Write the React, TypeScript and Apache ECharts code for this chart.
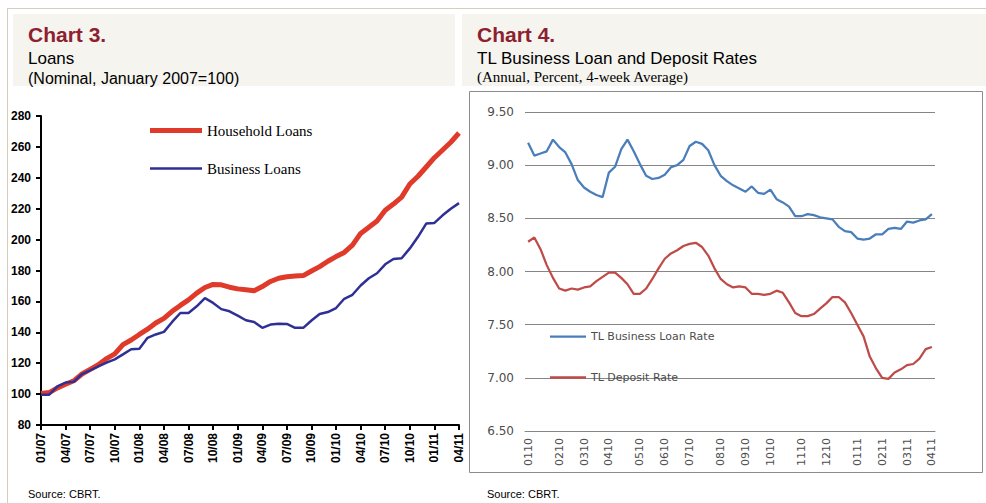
import React, { useEffect, useRef } from "react";
import * as echarts from "echarts";

// Chart 3 – Loans (Nominal, January 2007 = 100), monthly from 01/07 to 04/11
const householdLoans = [
  100.4, 101, 104, 106.4, 108.6, 113, 116, 119, 123, 126, 132, 135,
  138.6, 142, 146, 149, 153.6, 157.4, 161, 165.4, 169, 171, 170.7, 169.2,
  168.1, 167.5, 166.9, 169.6, 172.9, 175, 176, 176.5, 176.7, 179.7, 182.5, 186,
  189, 191.7, 196.4, 204, 208, 212, 219, 223, 227.5, 236, 241, 247,
  253, 258, 263, 269,
];
const businessLoans = [
  99.6, 99.6, 105, 107.5, 108, 113, 115.4, 118, 120.4, 122.5, 125.7, 129,
  129.4, 136.4, 138.6, 140.3, 146.7, 152.5, 152.5, 156.8, 162.1, 159, 155, 153.6,
  150.8, 147.8, 146.7, 142.9, 145, 145.6, 145.4, 142.9, 142.9, 147.6, 151.9, 153.1,
  155.7, 161.7, 164.3, 170.3, 175, 178.2, 184, 187.4, 187.9, 194.3, 201.8, 210.4,
  210.8, 215.7, 220, 223.6,
];
const loanStartYear = 2007;
const loanAxis = { min: 80, max: 280, interval: 20 };

// Chart 4 – TL business loan and deposit rates, weekly from first week of 2010
const businessLoanRate = [
  9.21, 9.09, 9.11, 9.13, 9.24, 9.17, 9.12, 9.01, 8.86, 8.79, 8.75, 8.72,
  8.7, 8.93, 8.985, 9.15, 9.24, 9.13, 9.01, 8.9, 8.87, 8.88, 8.91, 8.98,
  9.0, 9.05, 9.18, 9.22, 9.2, 9.14, 9.0, 8.9, 8.85, 8.81, 8.78, 8.75,
  8.8, 8.74, 8.73, 8.77, 8.68, 8.65, 8.61, 8.52, 8.52, 8.54, 8.53, 8.51,
  8.5, 8.49, 8.42, 8.38, 8.37, 8.31, 8.3, 8.31, 8.35, 8.35, 8.4, 8.41,
  8.4, 8.47, 8.46, 8.48, 8.49, 8.54,
];
const depositRate = [
  8.28, 8.32, 8.21, 8.06, 7.94, 7.84, 7.82, 7.84, 7.83, 7.85, 7.86, 7.91,
  7.95, 7.99, 7.99, 7.94, 7.88, 7.79, 7.79, 7.84, 7.93, 8.03, 8.12, 8.17,
  8.2, 8.24, 8.26, 8.27, 8.23, 8.15, 8.03, 7.93, 7.88, 7.85, 7.86, 7.85,
  7.79, 7.79, 7.78, 7.79, 7.82, 7.8, 7.71, 7.61, 7.58, 7.58, 7.6, 7.65,
  7.7, 7.76, 7.76, 7.71, 7.61, 7.5, 7.39, 7.2, 7.09, 7.0, 6.99, 7.05,
  7.08, 7.12, 7.13, 7.18, 7.27, 7.29,
];
const rateStart = Date.UTC(2010, 0, 1);
const rateAxis = { min: 6.5, max: 9.5, interval: 0.5 };

const pad2 = (n: number) => String(n).padStart(2, "0");
const loanMonths = householdLoans.map((_, i) => {
  const m = i % 12;
  const y = (loanStartYear + Math.floor(i / 12)) % 100;
  return `${pad2(m + 1)}/${pad2(y)}`;
});
const rateWeeks = businessLoanRate.map((_, k) => {
  const d = new Date(rateStart + k * 7 * 86400000);
  return pad2(d.getUTCMonth() + 1) + pad2(d.getUTCFullYear() % 100);
});
const isMonthStart = (i: number) => i === 0 || rateWeeks[i] !== rateWeeks[i - 1];

export default function App() {
  const ref = useRef<HTMLDivElement>(null);
  useEffect(() => {
    if (!ref.current) return;
    const chart = echarts.init(ref.current, undefined, { renderer: "svg" });
    const tan = "#d6cdbd";
    const header = "#f5f4ef";
    const maroon = "#8d1f30";
    const gray = "#4d4d4d";
    chart.setOption({
      animation: false,
      backgroundColor: "#ffffff",
      graphic: [
        { type: "line", shape: { x1: 7, y1: 8.5, x2: 986, y2: 8.5 }, style: { stroke: tan, lineWidth: 1 } },
        { type: "line", shape: { x1: 7.5, y1: 8, x2: 7.5, y2: 503 }, style: { stroke: tan, lineWidth: 1 } },
        { type: "rect", shape: { x: 13, y: 14, width: 442, height: 72 }, style: { fill: header } },
        { type: "rect", shape: { x: 462, y: 14, width: 524, height: 72 }, style: { fill: header } },
        { type: "rect", shape: { x: 469.5, y: 91.5, width: 513, height: 381 }, style: { fill: "none", stroke: "#8c8c8c", lineWidth: 1 } },
        { type: "text", style: { text: "Chart 3.", x: 28, y: 34, fill: maroon, font: "bold 21px Arial, 'Liberation Sans', sans-serif", verticalAlign: "middle" } },
        { type: "text", style: { text: "Loans", x: 28, y: 58, fill: "#000", font: "17px Arial, 'Liberation Sans', sans-serif", verticalAlign: "middle" } },
        { type: "text", style: { text: "(Nominal, January 2007=100)", x: 28, y: 78.5, fill: "#000", font: "16px Arial, 'Liberation Sans', sans-serif", verticalAlign: "middle" } },
        { type: "text", style: { text: "Chart 4.", x: 477, y: 34, fill: maroon, font: "bold 21px Arial, 'Liberation Sans', sans-serif", verticalAlign: "middle" } },
        { type: "text", style: { text: "TL Business Loan and Deposit Rates", x: 477, y: 58, fill: "#000", font: "17px Arial, 'Liberation Sans', sans-serif", verticalAlign: "middle" } },
        { type: "text", style: { text: "(Annual, Percent, 4-week Average)", x: 477, y: 76.5, fill: "#000", font: "15px 'Liberation Serif', 'Times New Roman', serif", verticalAlign: "middle" } },
        { type: "text", style: { text: "Source: CBRT.", x: 28, y: 494, fill: "#000", font: "11px Arial, 'Liberation Sans', sans-serif", verticalAlign: "middle" } },
        { type: "text", style: { text: "Source: CBRT.", x: 487, y: 494, fill: "#000", font: "11px Arial, 'Liberation Sans', sans-serif", verticalAlign: "middle" } },
      ],
      legend: [
        {
          data: [
            { name: "Household Loans", icon: "path://M0 0H52V5H0Z" },
            { name: "Business Loans", icon: "path://M0 0H52V2.5H0Z" },
          ],
          orient: "vertical",
          left: 150,
          top: 123,
          padding: 0,
          itemWidth: 52,
          itemHeight: 14,
          itemGap: 23,
          textStyle: { fontFamily: "'Liberation Serif', 'Times New Roman', serif", fontSize: 15, color: "#000" },
        },
        {
          data: [
            { name: "TL Business Loan Rate", icon: "path://M0 0H36V2.25H0Z" },
            { name: "TL Deposit Rate", icon: "path://M0 0H36V2.5H0Z" },
          ],
          orient: "vertical",
          left: 550,
          top: 331,
          padding: 0,
          itemWidth: 36,
          itemHeight: 14,
          itemGap: 30,
          textStyle: { fontFamily: "'DejaVu Sans', Verdana, sans-serif", fontSize: 11, color: gray },
        },
      ],
      grid: [
        { left: 41, top: 116, width: 418, height: 309 },
        { left: 525, top: 112, width: 410, height: 319 },
      ],
      xAxis: [
        {
          gridIndex: 0,
          type: "category",
          data: loanMonths,
          boundaryGap: false,
          axisLine: { lineStyle: { color: "#000", width: 2 } },
          axisTick: { interval: 2, length: 5, lineStyle: { color: "#000", width: 2 } },
          axisLabel: { interval: 2, rotate: 90, fontSize: 12, fontWeight: "bold", color: "#000", fontFamily: "Arial, 'Liberation Sans', sans-serif", margin: 8 },
          splitLine: { show: false },
        },
        {
          gridIndex: 1,
          type: "category",
          data: rateWeeks,
          boundaryGap: true,
          axisLine: { lineStyle: { color: "#868686", width: 1 } },
          axisTick: { alignWithLabel: true, interval: (i: number) => isMonthStart(i), length: 5, lineStyle: { color: "#868686" } },
          axisLabel: { interval: (i: number) => isMonthStart(i), rotate: 90, fontSize: 11, color: gray, fontFamily: "'DejaVu Sans', Verdana, sans-serif", margin: 7 },
          splitLine: { show: false },
        },
      ],
      yAxis: [
        {
          gridIndex: 0,
          type: "value",
          min: loanAxis.min,
          max: loanAxis.max,
          interval: loanAxis.interval,
          axisLine: { show: true, lineStyle: { color: "#000", width: 2 } },
          axisTick: { show: true, length: 5, lineStyle: { color: "#000", width: 2 } },
          axisLabel: { fontSize: 12, fontWeight: "bold", color: "#000", fontFamily: "Arial, 'Liberation Sans', sans-serif", margin: 10 },
          splitLine: { show: false },
        },
        {
          gridIndex: 1,
          type: "value",
          min: rateAxis.min,
          max: rateAxis.max,
          interval: rateAxis.interval,
          axisLine: { show: false },
          axisTick: { show: false },
          axisLabel: { fontSize: 12, color: gray, fontFamily: "'DejaVu Sans', Verdana, sans-serif", margin: 11, formatter: (v: number) => v.toFixed(2) },
          splitLine: { lineStyle: { color: "#868686", width: 1 } },
        },
      ],
      series: [
        {
          name: "Household Loans",
          type: "line",
          xAxisIndex: 0,
          yAxisIndex: 0,
          data: householdLoans,
          symbol: "none",
          lineStyle: { color: "#df3a2a", width: 5 },
          itemStyle: { color: "#df3a2a" },
        },
        {
          name: "Business Loans",
          type: "line",
          xAxisIndex: 0,
          yAxisIndex: 0,
          data: businessLoans,
          symbol: "none",
          lineStyle: { color: "#2f3096", width: 2.5 },
          itemStyle: { color: "#2f3096" },
        },
        {
          name: "TL Business Loan Rate",
          type: "line",
          xAxisIndex: 1,
          yAxisIndex: 1,
          data: businessLoanRate,
          symbol: "none",
          lineStyle: { color: "#4a7ebb", width: 2.25 },
          itemStyle: { color: "#4a7ebb" },
        },
        {
          name: "TL Deposit Rate",
          type: "line",
          xAxisIndex: 1,
          yAxisIndex: 1,
          data: depositRate,
          symbol: "none",
          lineStyle: { color: "#be4b48", width: 2.25 },
          itemStyle: { color: "#be4b48" },
        },
      ],
    });
    return () => chart.dispose();
  }, []);
  return (
    <div
      ref={ref}
      style={{ position: "absolute", left: 0, top: 0, width: 986, height: 503 }}
    />
  );
}
